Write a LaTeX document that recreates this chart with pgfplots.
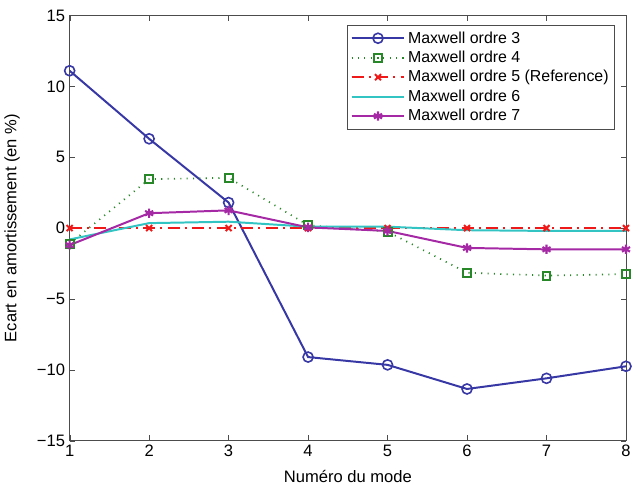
\documentclass[border=0pt]{standalone}
\usepackage{pgfplots}
\pgfplotsset{compat=1.18}
\usepackage{fontspec}
\setmainfont{Liberation Sans}
\definecolor{cblue}{RGB}{55,55,165}
\definecolor{cgreen}{RGB}{40,135,40}
\definecolor{cred}{RGB}{240,25,25}
\definecolor{ccyan}{RGB}{50,195,195}
\definecolor{cpurple}{RGB}{165,40,165}
\begin{document}
\begin{tikzpicture}
\begin{axis}[
  scale only axis,
  width=420pt, height=321pt,
  xmin=1, xmax=8, ymin=-15, ymax=15,
  xtick={1,...,8}, ytick={-15,-10,...,15},
  yticklabels={−15,−10,−5,0,5,10,15},
  tick align=inside,
  major tick length=4pt,
  tick style={black!70},
  axis line style={black!70},
  font=\fontsize{12.5}{14}\selectfont,
  /pgf/number format/assume math mode=true,
  xlabel={Numéro du mode},
  ylabel={Ecart en amortissement (en \%)},
  xlabel style={yshift=-3pt},
  ylabel style={yshift=6pt},
  legend style={at={(0.98,0.977)}, anchor=north east, draw=black!70, font=\fontsize{12}{14}\selectfont, row sep=0.5pt, inner sep=2.5pt},
  legend cell align=left,
  legend image code/.code={\draw[#1] (0pt,0pt) -- (1.4cm,0pt); \draw[#1, mark repeat=2, mark phase=2] plot coordinates {(0pt,0pt) (0.7cm,0pt) (1.4cm,0pt)};},
]
\addplot[cblue, line width=1.5pt, mark=o, mark size=3.8pt, mark options={solid, line width=1.2pt}] coordinates {
(1,11.1) (2,6.3) (3,1.8) (4,-9.1) (5,-9.65) (6,-11.35) (7,-10.6) (8,-9.75)};
\addlegendentry{Maxwell ordre 3}
\addplot[cgreen, line width=1.3pt, dash pattern=on 0.8pt off 4pt, mark=square, mark size=3pt, mark options={solid, line width=1.5pt}] coordinates {
(1,-1.1) (2,3.45) (3,3.55) (4,0.2) (5,-0.25) (6,-3.15) (7,-3.35) (8,-3.25)};
\addlegendentry{Maxwell ordre 4}
\addplot[cred, line width=1.6pt, dash pattern=on 9pt off 4pt on 1.5pt off 4pt, mark=x, mark size=3.2pt, mark options={solid, line width=1.5pt}] coordinates {
(1,0) (2,0) (3,0) (4,0) (5,0) (6,0) (7,0) (8,0)};
\addlegendentry{Maxwell ordre 5 (Reference)}
\addplot[ccyan, line width=1.5pt, no markers] coordinates {
(1,-0.8) (2,0.35) (3,0.45) (4,0.1) (5,0.1) (6,-0.15) (7,-0.2) (8,-0.2)};
\addlegendentry{Maxwell ordre 6}
\addplot[cpurple, line width=1.5pt, mark=asterisk, mark size=3.5pt, mark options={solid, line width=1.6pt}] coordinates {
(1,-1.2) (2,1.05) (3,1.25) (4,0.05) (5,-0.2) (6,-1.4) (7,-1.5) (8,-1.5)};
\addlegendentry{Maxwell ordre 7}
\end{axis}
\path (current bounding box.north) ++(0,4pt) coordinate (topextra);
\path (current bounding box.south) ++(0,-2pt) coordinate (botextra);
\end{tikzpicture}
\end{document}
